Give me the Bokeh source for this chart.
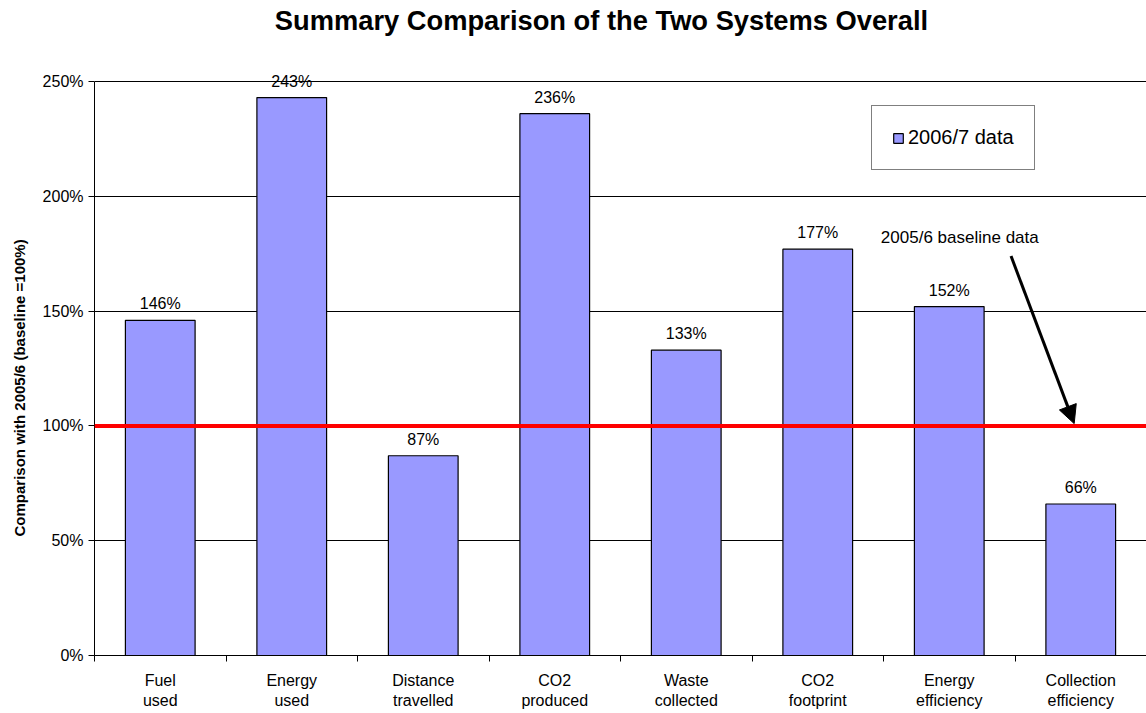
from bokeh.plotting import figure
from bokeh.models import (ColumnDataSource, Range1d, FixedTicker, LabelSet, Title,
                          PrintfTickFormatter, Span, Arrow, NormalHead, Label, Legend, LegendItem)
from bokeh.core.properties import value
from bokeh.embed import file_html
from bokeh.resources import INLINE

title_text = "Summary Comparison of the Two Systems Overall"
y_label = "Comparison with 2005/6 (baseline =100%)"
categories = ["Fuel\nused", "Energy\nused", "Distance\ntravelled", "CO2\nproduced",
              "Waste\ncollected", "CO2\nfootprint", "Energy\nefficiency", "Collection\nefficiency"]
values_2006_7 = [146, 243, 87, 236, 133, 177, 152, 66]
baseline = 100
y_ticks = [0, 50, 100, 150, 200, 250]

FONT = "Liberation Sans"
BAR = "#9999FF"

x = list(range(len(categories)))
src = ColumnDataSource(dict(x=x, top=values_2006_7, label=[f"{v}%" for v in values_2006_7]))

# the frame reaches the top of the canvas; the axis itself stops at 250%
Y_TOP = 285.3
p = figure(width=1146, height=713, output_backend="svg", toolbar_location=None,
           x_range=Range1d(-0.5, len(categories) - 0.5), y_range=Range1d(0, Y_TOP),
           min_border_left=94, min_border_right=0, min_border_top=0, min_border_bottom=58)
p.outline_line_color = None
p.background_fill_color = "white"
p.border_fill_color = "white"

r = p.vbar(x="x", top="top", width=0.53, source=src, fill_color=BAR, line_color="black", line_width=1.2)

p.add_layout(LabelSet(x="x", y="top", text="label", source=src, text_align="center",
                      text_baseline="bottom", y_offset=8, text_font=value(FONT),
                      text_font_size=value("16px"), text_color=value("black")))

# chart title
p.add_layout(Label(x=3.355, y=276.6, text=title_text, text_align="center", text_baseline="middle",
                   text_font=FONT, text_font_size="27.3px", text_font_style="bold",
                   text_color="black"))

# axes
p.xaxis.ticker = FixedTicker(ticks=x, minor_ticks=[i - 0.5 for i in range(len(categories) + 1)])
p.xaxis.major_label_overrides = {i: c for i, c in enumerate(categories)}
p.xaxis.major_tick_line_color = None
p.xaxis.minor_tick_line_color = "black"
p.xaxis.minor_tick_out = 6
p.xaxis.minor_tick_in = 0
p.xaxis.axis_line_color = "black"
p.xaxis.major_label_text_font = FONT
p.xaxis.major_label_text_font_size = "16px"
p.xaxis.major_label_text_color = "black"
p.xaxis.major_label_standoff = 10

p.yaxis.ticker = FixedTicker(ticks=y_ticks)
p.yaxis.bounds = (0, 250)
p.yaxis.formatter = PrintfTickFormatter(format="%d%%")
p.yaxis.minor_tick_line_color = None
p.yaxis.major_tick_in = 0
p.yaxis.major_tick_out = 6
p.yaxis.major_tick_line_color = "black"
p.yaxis.axis_line_color = "black"
p.yaxis.major_label_text_font = FONT
p.yaxis.major_label_text_font_size = "16px"
p.yaxis.major_label_text_color = "black"

# y-axis title
p.add_layout(Title(text=y_label, align="left", offset=119, vertical_align="top", standoff=20,
                   text_font=FONT, text_font_size="15px", text_font_style="bold",
                   text_color="black"), "left")

p.xgrid.grid_line_color = None
p.ygrid.ticker = FixedTicker(ticks=y_ticks)
p.ygrid.grid_line_color = "black"
p.ygrid.grid_line_width = 1

# baseline
p.add_layout(Span(location=baseline, dimension="width", line_color="#FF0000", line_width=4))

# annotation
ann_text_pos = (5.48, 182)
arrow_start = (6.47, 174)
arrow_end = (6.95, 101)
p.add_layout(Label(x=ann_text_pos[0], y=ann_text_pos[1], text="2005/6 baseline data",
                   text_font=FONT, text_font_size="17px", text_color="black",
                   text_baseline="middle"))
p.add_layout(Arrow(end=NormalHead(size=18, fill_color="black", line_color="black"),
                   x_start=arrow_start[0], y_start=arrow_start[1],
                   x_end=arrow_end[0], y_end=arrow_end[1],
                   line_color="black", line_width=3))

legend = Legend(items=[LegendItem(label="2006/7 data", renderers=[r])],
                location=(777, 485), orientation="vertical",
                label_text_font=FONT, label_text_font_size="20px", label_text_color="black",
                glyph_width=12, glyph_height=12, padding=20, spacing=0, label_standoff=4,
                border_line_color="black", border_line_width=1, background_fill_alpha=1,
                margin=0)
p.add_layout(legend)

open("out.html", "w").write(file_html(p, INLINE))
